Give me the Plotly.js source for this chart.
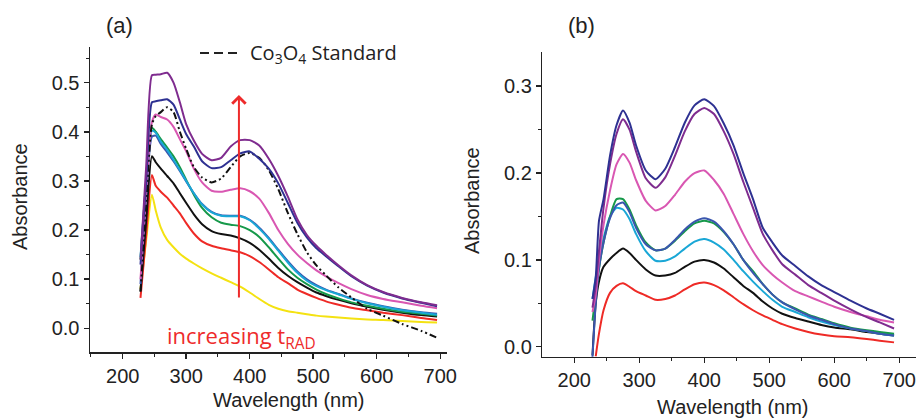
<!DOCTYPE html>
<html>
<head>
<meta charset="utf-8">
<script src="https://cdn.plot.ly/plotly-3.0.1.min.js"></script>
<style>html,body{margin:0;padding:0;background:#fff;}#chart{width:916px;height:418px;}</style>
</head>
<body>
<div id="chart"></div>
<script>
// ---------- Panel (a) ----------
const wlA = [228, 237, 246, 252, 260, 270, 280, 290, 300, 312, 325, 340, 355, 370, 385, 400, 415, 430, 445, 460, 475, 490, 505, 520, 540, 560, 585, 610, 640, 670, 695];
const aPurple   = [0.14, 0.33, 0.515, 0.516, 0.517, 0.52, 0.5, 0.46, 0.415, 0.382, 0.355, 0.342, 0.347, 0.37, 0.383, 0.383, 0.372, 0.345, 0.31, 0.268, 0.222, 0.19, 0.168, 0.15, 0.128, 0.108, 0.088, 0.074, 0.062, 0.053, 0.047];
const aNavy     = [0.13, 0.3, 0.46, 0.462, 0.464, 0.466, 0.455, 0.425, 0.395, 0.37, 0.34, 0.326, 0.328, 0.342, 0.356, 0.36, 0.345, 0.325, 0.295, 0.255, 0.215, 0.185, 0.163, 0.147, 0.126, 0.106, 0.087, 0.073, 0.061, 0.052, 0.045];
const aStandard = [0.075, 0.25, 0.415, 0.432, 0.44, 0.45, 0.44, 0.4, 0.365, 0.328, 0.307, 0.297, 0.305, 0.328, 0.35, 0.357, 0.347, 0.322, 0.283, 0.235, 0.192, 0.155, 0.128, 0.108, 0.083, 0.063, 0.04, 0.026, 0.009, -0.005, -0.019];
const aPink     = [0.1, 0.28, 0.42, 0.435, 0.43, 0.425, 0.41, 0.385, 0.36, 0.325, 0.297, 0.28, 0.278, 0.282, 0.285, 0.279, 0.264, 0.235, 0.2, 0.172, 0.15, 0.133, 0.118, 0.106, 0.092, 0.08, 0.068, 0.06, 0.053, 0.046, 0.041];
const aCyan     = [0.145, 0.3, 0.402, 0.398, 0.38, 0.363, 0.343, 0.322, 0.3, 0.275, 0.252, 0.236, 0.229, 0.228, 0.228, 0.22, 0.203, 0.182, 0.158, 0.134, 0.113, 0.097, 0.086, 0.078, 0.069, 0.06, 0.051, 0.044, 0.037, 0.032, 0.028];
const aBlue     = [0.09, 0.27, 0.39, 0.392, 0.375, 0.358, 0.34, 0.32, 0.299, 0.275, 0.253, 0.237, 0.23, 0.229, 0.229, 0.221, 0.205, 0.184, 0.16, 0.137, 0.116, 0.1, 0.088, 0.079, 0.07, 0.061, 0.052, 0.045, 0.038, 0.033, 0.03];
const aGreen    = [0.14, 0.3, 0.408, 0.4, 0.385, 0.368, 0.35, 0.328, 0.302, 0.272, 0.245, 0.226, 0.215, 0.211, 0.208, 0.2, 0.186, 0.165, 0.142, 0.12, 0.103, 0.09, 0.079, 0.07, 0.061, 0.053, 0.046, 0.04, 0.034, 0.03, 0.026];
const aBlack    = [0.075, 0.22, 0.35, 0.338, 0.325, 0.31, 0.295, 0.275, 0.255, 0.232, 0.212, 0.198, 0.192, 0.189, 0.183, 0.174, 0.16, 0.142, 0.123, 0.107, 0.094, 0.083, 0.073, 0.066, 0.058, 0.051, 0.044, 0.038, 0.032, 0.027, 0.024];
const aRed      = [0.062, 0.19, 0.312, 0.29, 0.278, 0.266, 0.25, 0.234, 0.214, 0.193, 0.177, 0.168, 0.163, 0.159, 0.155, 0.147, 0.135, 0.12, 0.104, 0.092, 0.079, 0.07, 0.062, 0.055, 0.048, 0.042, 0.037, 0.032, 0.027, 0.021, 0.017];
const aYellow   = [0.08, 0.18, 0.272, 0.24, 0.205, 0.18, 0.165, 0.152, 0.142, 0.132, 0.122, 0.112, 0.103, 0.094, 0.085, 0.073, 0.06, 0.048, 0.04, 0.035, 0.032, 0.029, 0.026, 0.024, 0.022, 0.02, 0.018, 0.017, 0.015, 0.013, 0.012];

// ---------- Panel (b) ----------
const wlB = [228, 233, 238, 245, 255, 265, 275, 285, 295, 310, 325, 340, 355, 370, 385, 400, 415, 430, 445, 460, 475, 490, 505, 520, 540, 560, 580, 600, 625, 650, 670, 692];
const bNavy   = [0.055, 0.08, 0.145, 0.17, 0.22, 0.255, 0.272, 0.258, 0.232, 0.203, 0.193, 0.205, 0.23, 0.258, 0.278, 0.285, 0.277, 0.257, 0.232, 0.2, 0.17, 0.137, 0.12, 0.105, 0.093, 0.081, 0.071, 0.063, 0.053, 0.044, 0.038, 0.031];
const bPurple = [0.045, 0.07, 0.11, 0.16, 0.21, 0.245, 0.262, 0.25, 0.225, 0.194, 0.183, 0.195, 0.22, 0.248, 0.268, 0.275, 0.268, 0.248, 0.222, 0.19, 0.16, 0.13, 0.111, 0.095, 0.083, 0.071, 0.062, 0.053, 0.043, 0.034, 0.028, 0.021];
const bPink   = [0.04, 0.06, 0.1, 0.14, 0.18, 0.21, 0.222, 0.212, 0.192, 0.168, 0.157, 0.162, 0.175, 0.19, 0.2, 0.203, 0.192, 0.176, 0.153, 0.13, 0.11, 0.094, 0.083, 0.074, 0.064, 0.058, 0.052, 0.046, 0.04, 0.035, 0.031, 0.028];
const bGreen  = [0.03, 0.06, 0.09, 0.12, 0.15, 0.17, 0.17, 0.158, 0.14, 0.12, 0.111, 0.113, 0.122, 0.133, 0.142, 0.145, 0.142, 0.132, 0.118, 0.1, 0.087, 0.072, 0.06, 0.051, 0.044, 0.037, 0.032, 0.027, 0.022, 0.019, 0.017, 0.015];
const bBlue   = [-0.012, 0.05, 0.09, 0.12, 0.148, 0.163, 0.166, 0.155, 0.137, 0.118, 0.111, 0.113, 0.123, 0.135, 0.144, 0.148, 0.144, 0.133, 0.118, 0.1, 0.085, 0.072, 0.06, 0.051, 0.043, 0.036, 0.031, 0.026, 0.021, 0.018, 0.015, 0.013];
const bCyan   = [0.055, 0.08, 0.1, 0.125, 0.15, 0.16, 0.158, 0.147, 0.13, 0.11, 0.099, 0.099, 0.104, 0.113, 0.121, 0.124, 0.12, 0.112, 0.1, 0.087, 0.075, 0.064, 0.054, 0.046, 0.04, 0.034, 0.029, 0.025, 0.021, 0.018, 0.015, 0.013];
const bBlack  = [-0.01, 0.05, 0.075, 0.092, 0.101, 0.108, 0.113, 0.108, 0.1, 0.089, 0.082, 0.082, 0.085, 0.092, 0.098, 0.1, 0.097, 0.09, 0.08, 0.07, 0.062, 0.052, 0.044, 0.038, 0.033, 0.029, 0.025, 0.022, 0.02, 0.017, 0.015, 0.013];
const bRed    = [null, -0.011, 0.015, 0.042, 0.062, 0.07, 0.073, 0.069, 0.064, 0.059, 0.054, 0.055, 0.059, 0.066, 0.072, 0.074, 0.071, 0.065, 0.057, 0.049, 0.042, 0.036, 0.031, 0.026, 0.021, 0.017, 0.014, 0.012, 0.011, 0.009, 0.007, 0.005];

// annotation values
const legendLabel = 'Co<sub>3</sub>O<sub>4</sub> Standard';
const arrowLabel = 'increasing t<sub>RAD</sub>';
const arrowWl = 383, arrowFrom = 0.06, arrowTo = 0.475;

const C = {
  purple: '#7F2C8F', navy: '#2E3192', pink: '#D957B2', cyan: '#1AA7D6',
  blue: '#3A56AE', green: '#16994A', black: '#111111', red: '#EE2A26', yellow: '#F4E212'
};
const W = 2;
function tr(x, y, color, axis, dash) {
  return {
    type: 'scatter', mode: 'lines', x: x, y: y,
    xaxis: axis === 2 ? 'x2' : 'x', yaxis: axis === 2 ? 'y2' : 'y',
    line: {color: color, width: W, shape: 'spline', smoothing: 0.6, dash: dash || 'solid'},
    hoverinfo: 'skip', connectgaps: false
  };
}

const data = [
  tr(wlA, aYellow, C.yellow, 1),
  tr(wlA, aRed, C.red, 1),
  tr(wlA, aBlack, C.black, 1),
  tr(wlA, aGreen, C.green, 1),
  tr(wlA, aBlue, C.blue, 1),
  tr(wlA, aCyan, C.cyan, 1),
  tr(wlA, aPink, C.pink, 1),
  tr(wlA, aStandard, '#111111', 1, '7px,3px,2px,3px,2px,3px'),
  tr(wlA, aNavy, C.navy, 1),
  tr(wlA, aPurple, C.purple, 1),
  tr(wlB, bRed, C.red, 2),
  tr(wlB, bBlack, C.black, 2),
  tr(wlB, bCyan, C.cyan, 2),
  tr(wlB, bGreen, C.green, 2),
  tr(wlB, bBlue, C.blue, 2),
  tr(wlB, bPink, C.pink, 2),
  tr(wlB, bPurple, C.purple, 2),
  tr(wlB, bNavy, C.navy, 2)
];

const AX = '#222222';
function xax(domain, range, anchor) {
  return {
    domain: domain, range: range, anchor: anchor,
    showline: true, linecolor: AX, linewidth: 1.5, mirror: false,
    ticks: 'outside', ticklen: 5, tickwidth: 1.5, tickcolor: AX,
    tick0: 0, dtick: 100, showgrid: false, zeroline: false,
    tickfont: {size: 20, color: '#222'},
    minor: {dtick: 50, ticks: 'outside', ticklen: 3, tickwidth: 1, tickcolor: AX, showgrid: false}
  };
}
function yax(domain, range, anchor) {
  return {
    domain: domain, range: range, anchor: anchor,
    showline: true, linecolor: AX, linewidth: 1.5, mirror: false,
    ticks: 'outside', ticklen: 5, tickwidth: 1.5, tickcolor: AX,
    tick0: 0, dtick: 0.1, tickformat: '.1f', showgrid: false, zeroline: false,
    tickfont: {size: 20, color: '#222'},
    minor: {dtick: 0.05, ticks: 'outside', ticklen: 3, tickwidth: 1, tickcolor: AX, showgrid: false}
  };
}
const PW = 916, PH = 418;
const px = v => v / PW, py = v => 1 - v / PH;

const layout = {
  width: PW, height: PH,
  margin: {l: 0, r: 0, t: 0, b: 0},
  paper_bgcolor: '#ffffff', plot_bgcolor: 'rgba(0,0,0,0)',
  showlegend: false,
  font: {family: 'Liberation Sans, Arial, sans-serif', color: '#222', size: 20},
  xaxis: xax([px(90), px(446.6)], [148.5, 710], 'y'),
  yaxis: yax([py(352), py(46.7)], [-0.048, 0.573], 'x'),
  xaxis2: xax([px(542.3), px(915.5)], [150.8, 725], 'y2'),
  yaxis2: yax([py(356.7), py(51.5)], [-0.0115, 0.34], 'x2'),
  shapes: [
    {type: 'line', xref: 'paper', yref: 'paper', x0: px(200), x1: px(238), y0: py(53), y1: py(53),
     line: {color: '#222', width: 2, dash: '9px,5px'}}
  ],
  annotations: [
    {text: '(a)', xref: 'paper', yref: 'paper', x: px(119), y: py(25), showarrow: false, xanchor: 'center', yanchor: 'middle', font: {size: 22, color: '#222'}},
    {text: '(b)', xref: 'paper', yref: 'paper', x: px(581), y: py(25), showarrow: false, xanchor: 'center', yanchor: 'middle', font: {size: 22, color: '#222'}},
    {text: 'Absorbance', xref: 'paper', yref: 'paper', x: px(20), y: py(197), textangle: -90, showarrow: false, xanchor: 'center', yanchor: 'middle', font: {size: 20, color: '#222'}},
    {text: 'Absorbance', xref: 'paper', yref: 'paper', x: px(472), y: py(201), textangle: -90, showarrow: false, xanchor: 'center', yanchor: 'middle', font: {size: 20, color: '#222'}},
    {text: 'Wavelength (nm)', xref: 'paper', yref: 'paper', x: px(289), y: py(400), showarrow: false, xanchor: 'center', yanchor: 'middle', font: {size: 20, color: '#222'}},
    {text: 'Wavelength (nm)', xref: 'paper', yref: 'paper', x: px(733), y: py(407), showarrow: false, xanchor: 'center', yanchor: 'middle', font: {size: 20, color: '#222'}},
    {text: legendLabel, xref: 'paper', yref: 'paper', x: px(248), y: py(53), showarrow: false, xanchor: 'left', yanchor: 'middle', font: {family: 'Open Sans, sans-serif', size: 20, color: '#222'}},
    {text: arrowLabel, xref: 'paper', yref: 'paper', x: px(165), y: py(337), showarrow: false, xanchor: 'left', yanchor: 'middle', font: {family: 'Open Sans, sans-serif', size: 22, color: '#EE2B2B'}},
    {text: '', xref: 'x', yref: 'y', axref: 'x', ayref: 'y', x: arrowWl, y: arrowTo, ax: arrowWl, ay: arrowFrom,
     showarrow: true, arrowhead: 4, arrowsize: 1.3, arrowwidth: 2, arrowcolor: '#EE2B2B'}
  ]
};

Plotly.newPlot('chart', data, layout, {staticPlot: true, displayModeBar: false});
</script>
</body>
</html>
